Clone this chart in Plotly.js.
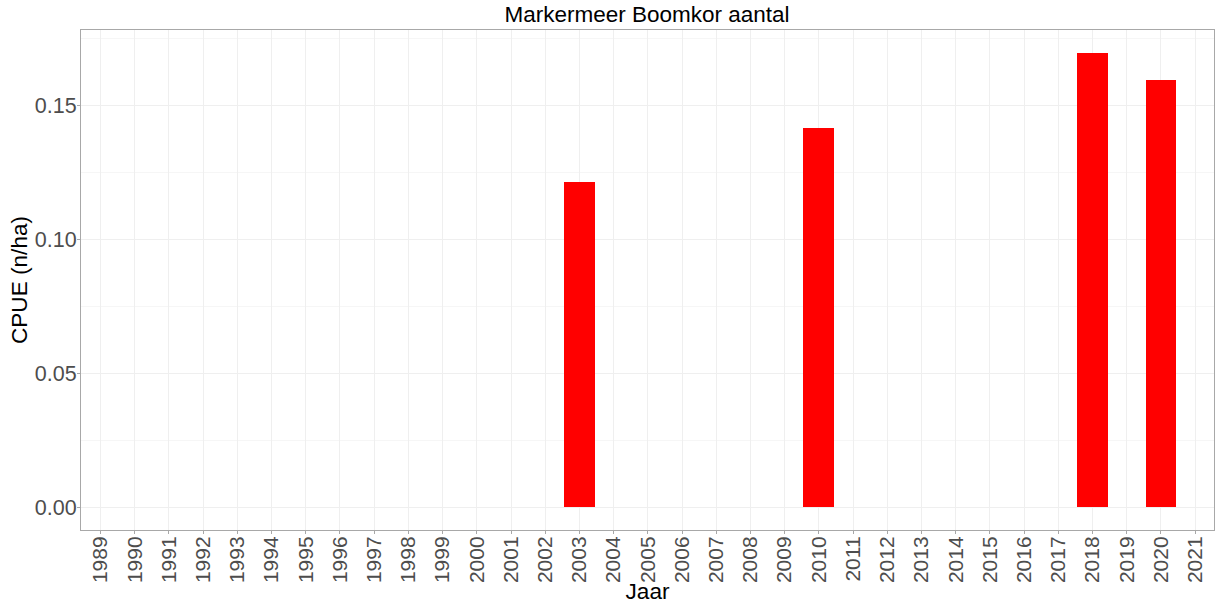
<!DOCTYPE html>
<html>
<head>
<meta charset="utf-8">
<script src="https://cdn.plot.ly/plotly-3.0.1.min.js"></script>
<style>
html,body{margin:0;padding:0;background:#fff;}
#chart{width:1215px;height:604px;}
</style>
</head>
<body>
<div id="chart"></div>
<script>
// Data
const years = [2003, 2010, 2018, 2020];
const cpue = [0.1213, 0.1415, 0.1697, 0.1596];
const yearTicks = [];
for (let y = 1989; y <= 2021; y++) yearTicks.push(y);
const yearTickLabels = yearTicks.map(String);
const yTickVals = [0, 0.05, 0.10, 0.15];
const yTickLabels = ["0.00", "0.05", "0.10", "0.15"];
const yMinorVals = [0.025, 0.075, 0.125, 0.175];

const font = "Liberation Sans, Arial, sans-serif";
const gridCol = "#efefef";
const borderCol = "#a8a8a8";

const trace = {
  type: "bar",
  x: years,
  y: cpue,
  width: 0.9,
  marker: {color: "#ff0000", line: {width: 0}},
  hoverinfo: "x+y"
};

const layout = {
  width: 1215,
  height: 604,
  paper_bgcolor: "#ffffff",
  plot_bgcolor: "#ffffff",
  margin: {l: 81, r: 1, t: 30, b: 74, pad: 0},
  showlegend: false,
  title: {
    text: "Markermeer Boomkor aantal",
    font: {family: font, size: 22.5, color: "#000000"},
    x: 0.5325, xanchor: "center",
    y: 0.99, yanchor: "top"
  },
  xaxis: {
    range: [1988.43, 2021.55],
    tickmode: "array",
    tickvals: yearTicks,
    ticktext: yearTickLabels,
    tickangle: -90,
    tickfont: {family: font, size: 21, color: "#4d4d4d"},
    ticks: "outside",
    ticklen: 3,
    tickwidth: 1,
    tickcolor: borderCol,
    ticklabelstandoff: -6,
    showgrid: true,
    gridcolor: gridCol,
    gridwidth: 1,
    zeroline: false,
    showline: true,
    linecolor: borderCol,
    linewidth: 1,
    mirror: true,
    automargin: false,
    title: {text: "Jaar", font: {family: font, size: 22.6, color: "#000000"}, standoff: 0}
  },
  yaxis: {
    range: [-0.00849, 0.1782],
    tickmode: "array",
    tickvals: yTickVals,
    ticktext: yTickLabels,
    tickfont: {family: font, size: 21.5, color: "#4d4d4d"},
    ticks: "outside",
    ticklen: 3,
    tickwidth: 1,
    tickcolor: borderCol,
    ticklabelstandoff: -4,
    showgrid: true,
    gridcolor: gridCol,
    gridwidth: 1,
    minor: {tickmode: "array", tickvals: yMinorVals, showgrid: true, gridcolor: "#f6f6f6", gridwidth: 1, ticks: ""},
    zeroline: false,
    showline: true,
    linecolor: borderCol,
    linewidth: 1,
    mirror: true,
    automargin: false,
    title: {text: "CPUE (n/ha)", font: {family: font, size: 22.6, color: "#000000"}, standoff: 0}
  },
  bargap: 0
};

Plotly.newPlot("chart", [trace], layout, {displayModeBar: false, staticPlot: true});
</script>
</body>
</html>
